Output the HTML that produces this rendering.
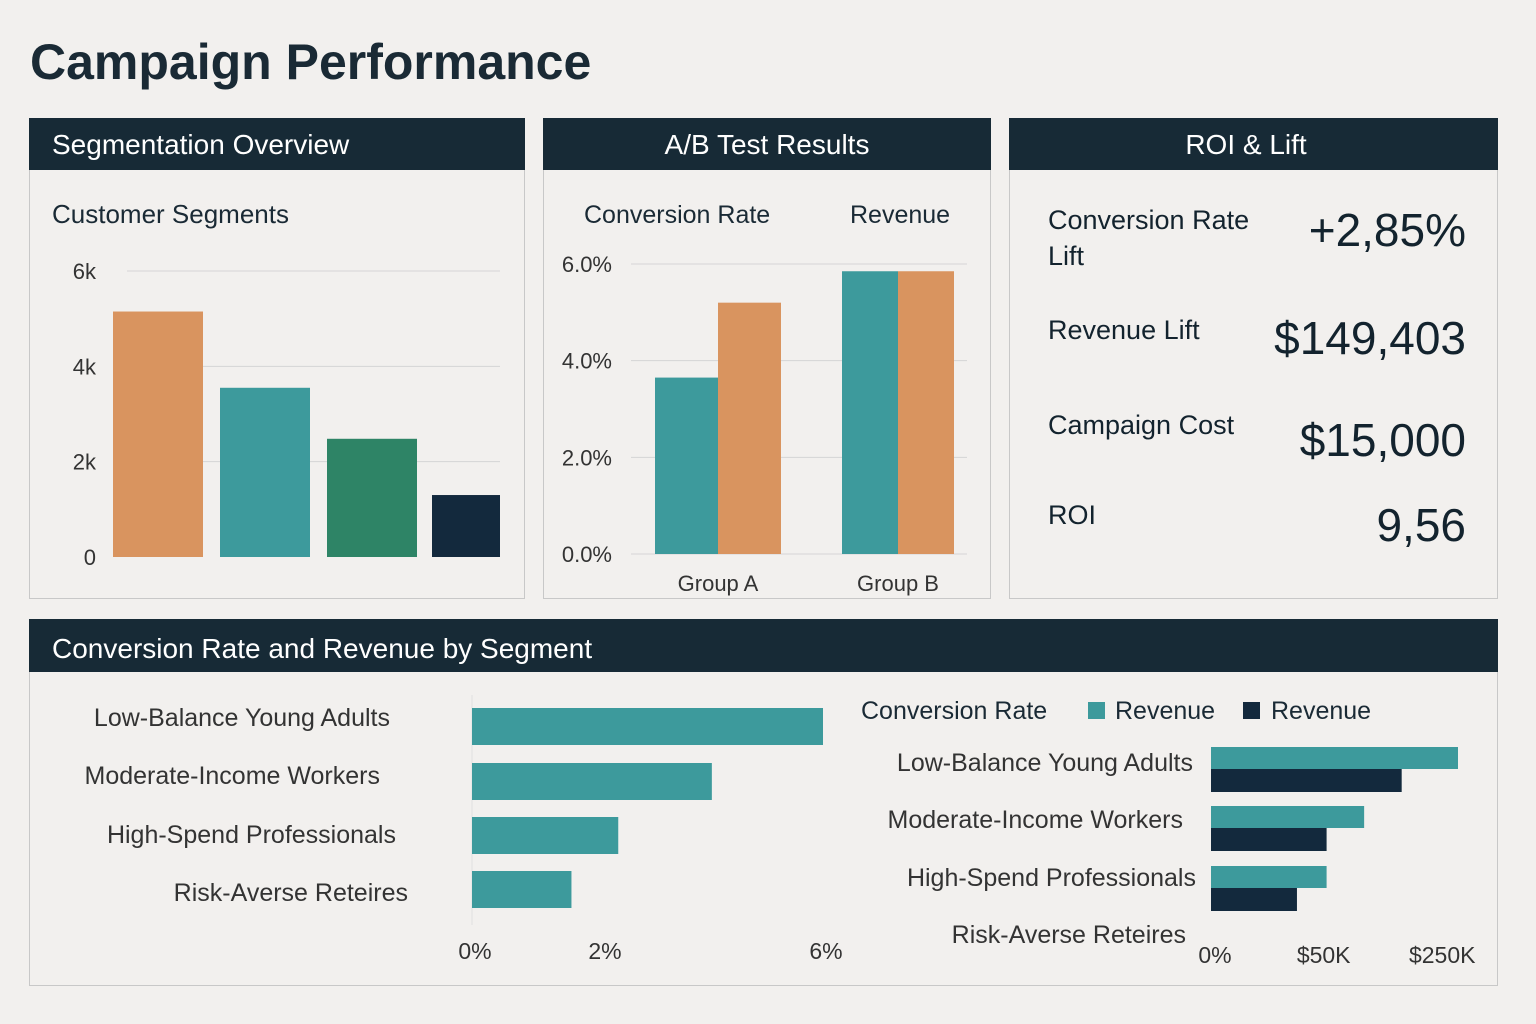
<!DOCTYPE html>
<html><head><meta charset="utf-8"><style>
body{margin:0;background:#f2f0ee;}
svg{display:block;font-family:"Liberation Sans","DejaVu Sans",sans-serif;}
</style></head><body>
<svg id="s" width="1536" height="1024" viewBox="0 0 1536 1024">
<rect width="1536" height="1024" fill="#f2f0ee"/>
<text x="30" y="79" font-size="50" font-weight="bold" fill="#1a2a35">Campaign Performance</text>

<g>
<rect x="29.5" y="118.5" width="495" height="480" fill="#f2f0ee" stroke="#c8c8c8"/>
<rect x="29" y="118" width="496" height="52" fill="#172a36"/>
<text x="52" y="154" font-size="28" fill="#fff">Segmentation Overview</text>
<text x="52" y="223" font-size="26" fill="#1a2a35">Customer Segments</text>
<g id="c1"></g>
</g>

<g>
<rect x="543.5" y="118.5" width="447" height="480" fill="#f2f0ee" stroke="#c8c8c8"/>
<rect x="543" y="118" width="448" height="52" fill="#172a36"/>
<text x="767" y="154" font-size="28" fill="#fff" text-anchor="middle">A/B Test Results</text>
<text x="584" y="223" font-size="25" fill="#1a2a35">Conversion Rate</text>
<text x="850" y="223" font-size="25" fill="#1a2a35">Revenue</text>
<g id="c2"></g>
</g>

<g>
<rect x="1009.5" y="118.5" width="488" height="480" fill="#f2f0ee" stroke="#c8c8c8"/>
<rect x="1009" y="118" width="489" height="52" fill="#172a36"/>
<text x="1246" y="154" font-size="28" fill="#fff" text-anchor="middle">ROI &amp; Lift</text>
<g font-size="27" fill="#13232e">
<text x="1048" y="229">Conversion Rate</text>
<text x="1048" y="265">Lift</text>
<text x="1048" y="339">Revenue Lift</text>
<text x="1048" y="434">Campaign Cost</text>
<text x="1048" y="524">ROI</text>
</g>
<g font-size="46" fill="#13232e" text-anchor="end">
<text x="1466" y="246">+2,85%</text>
<text x="1466" y="354">$149,403</text>
<text x="1466" y="456">$15,000</text>
<text x="1466" y="541">9,56</text>
</g>
</g>

<g>
<rect x="29.5" y="619.5" width="1468" height="366" fill="#f2f0ee" stroke="#c8c8c8"/>
<rect x="29" y="619" width="1469" height="53" fill="#172a36"/>
<text x="52" y="658" font-size="28" fill="#fff">Conversion Rate and Revenue by Segment</text>
<text x="861" y="719" font-size="25" fill="#1a2a35">Conversion Rate</text>
<rect x="1088" y="702" width="17" height="17" fill="#3d9a9c"/>
<text x="1115" y="719" font-size="25" fill="#1a2a35">Revenue</text>
<rect x="1243" y="702" width="17" height="17" fill="#13293d"/>
<text x="1271" y="719" font-size="25" fill="#1a2a35">Revenue</text>
<g id="c3"></g><g id="c4"></g>
</g>
</svg>
<script>
// Chart 1
const segValues=[5150,3550,2480,1300];
const segColors=['#d9945f','#3d9a9c','#2e8466','#13293d'];
const segTicks=[0,2000,4000,6000];
const segTickLabels=['0','2k','4k','6k'];
// Chart 2
const abGroups=['Group A','Group B'];
const abConv=[3.65,5.85];
const abRev=[5.2,5.85];
const abTicks=[0,2,4,6];
const abTickLabels=['0.0%','2.0%','4.0%','6.0%'];
// Chart 3
const segNames=['Low-Balance Young Adults','Moderate-Income Workers','High-Spend Professionals','Risk-Averse Reteires'];
const convRates=[6.0,4.1,2.5,1.7];
const convTicks=[0,2,6];
const convTickLabels=['0%','2%','6%'];
// Chart 4
const revTeal=[250,155,117];
const revNavy=[193,117,87];
const revTicks=[0,110,230];
const revTickLabels=['0%','$50K','$250K'];

const NS='http://www.w3.org/2000/svg';
function mk(p,t,a,txt){const e=document.createElementNS(NS,t);for(const k in a)e.setAttribute(k,a[k]);if(txt!==undefined)e.textContent=txt;p.appendChild(e);return e;}

// chart1
(function(){const g=document.getElementById('c1');
const y=v=>557-v/6000*286;
segTicks.forEach((t,i)=>{if(t>0){const l=mk(g,'line',{x1:127,x2:500,y1:y(t),y2:y(t),stroke:'#d5d5d5'});

}
const tx=mk(g,'text',{x:96,y:y(t)+8,'font-size':22,fill:'#333','text-anchor':'end'},segTickLabels[i]);

});
const xs=[113,220,327,432],ws=[90,90,90,68];
segValues.forEach((v,i)=>{const r=mk(g,'rect',{x:xs[i],y:y(v),width:ws[i],height:557-y(v),fill:segColors[i]});

});})();

// chart2
(function(){const g=document.getElementById('c2');
const y=v=>554-v/6*290;
abTicks.forEach((t,i)=>{const l=mk(g,'line',{x1:631,x2:967,y1:y(t),y2:y(t),stroke:'#d5d5d5'});


const tx=mk(g,'text',{x:612,y:y(t)+8,'font-size':22,fill:'#333','text-anchor':'end'},abTickLabels[i]);

});
const gx=[655,842],w=[63,56];
abGroups.forEach((n,i)=>{const a=mk(g,'rect',{x:gx[i],y:y(abConv[i]),width:w[i],height:554-y(abConv[i]),fill:'#3d9a9c'});


const b=mk(g,'rect',{x:gx[i]+w[i],y:y(abRev[i]),width:w[i],height:554-y(abRev[i]),fill:'#d9945f'});


const t=mk(g,'text',{x:gx[i]+w[i],y:591,'font-size':22,fill:'#333','text-anchor':'middle'},n);

});})();

// chart3
(function(){const g=document.getElementById('c3');
const x=v=>472+v/6*351;
const ay=[727,782,836,890],ly=[726,784,843,901],lx=[390,380,396,408];
const l=mk(g,'line',{x1:472,x2:472,y1:695,y2:925,stroke:'#e0e0e0'});


segNames.forEach((n,i)=>{const t=mk(g,'text',{x:lx[i],y:ly[i],'font-size':25,fill:'#333','text-anchor':'end'},n);


const r=mk(g,'rect',{x:472,y:ay[i]-19,width:x(convRates[i])-472,height:37,fill:'#3d9a9c'});

});
convTicks.forEach((t,i)=>{const tx=mk(g,'text',{x:x(t)+(i==1?16:3),y:959,'font-size':23,fill:'#333','text-anchor':'middle'},convTickLabels[i]);

});})();

// chart4
(function(){const g=document.getElementById('c4');
const x=v=>1211+v/250*247;
const ty=[747,806,866],lx=[1193,1183,1196,1186],ly=[771,828,886,943];
segNames.forEach((n,i)=>{const t=mk(g,'text',{x:lx[i],y:ly[i],'font-size':25,fill:'#333','text-anchor':'end'},n);

});
revTeal.forEach((v,i)=>{const a=mk(g,'rect',{x:1211,y:ty[i],width:x(v)-1211,height:22,fill:'#3d9a9c'});


const b=mk(g,'rect',{x:1211,y:ty[i]+22,width:x(revNavy[i])-1211,height:23,fill:'#13293d'});

});
revTicks.forEach((t,i)=>{const tx=mk(g,'text',{x:x(t)+4,y:963,'font-size':23,fill:'#333','text-anchor':'middle'},revTickLabels[i]);

});})();
</script>
</body></html>
